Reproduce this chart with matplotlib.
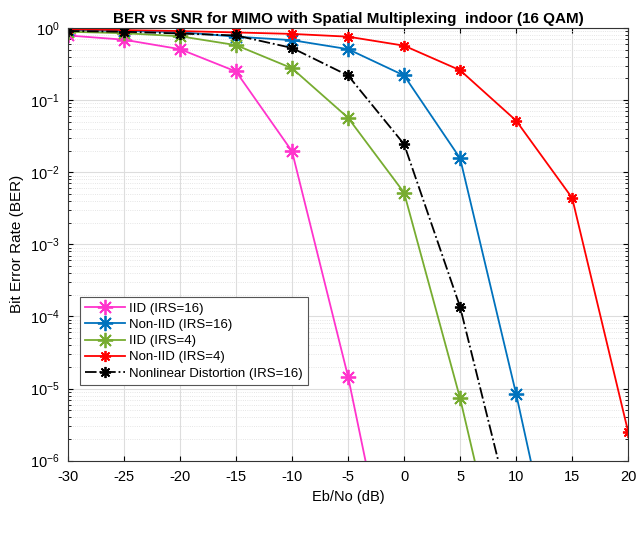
import matplotlib.pyplot as plt
from matplotlib.ticker import NullFormatter

plt.rcParams['font.family'] = ['Liberation Sans', 'DejaVu Sans']
plt.rcParams['axes.unicode_minus'] = False
plt.rcParams['mathtext.fontset'] = 'custom'
plt.rcParams['mathtext.rm'] = 'Liberation Sans'

snr = [-30, -25, -20, -15, -10, -5, 0, 5, 10, 15, 20]

berIID16 = [0.79, 0.69, 0.51, 0.25, 0.0195, 1.46e-5, 2.6e-9]
berNonIID16 = [0.93, 0.91, 0.88, 0.76, 0.68, 0.51, 0.22, 0.0156, 8.4e-6, 2.4e-9]
berIID4 = [0.89, 0.85, 0.77, 0.58, 0.277, 0.057, 5.2e-3, 7.3e-6, 3.5e-9]
berNonIID4 = [0.96, 0.94, 0.91, 0.87, 0.83, 0.76, 0.57, 0.26, 0.052, 0.0044, 2.5e-6]
berNonlin16 = [0.91, 0.89, 0.84, 0.79, 0.53, 0.22, 0.0245, 1.35e-4, 1.0e-7]

ast = (8, 2, 0)  # MATLAB style asterisk

fig = plt.figure(figsize=(6.41, 5.4), dpi=100)
ax = fig.add_axes([0.106, 0.147, 0.874, 0.801])

ax.semilogy(snr[:len(berIID16)], berIID16, '-', marker=ast, color='#FF33CC', lw=1.3, ms=11, mew=1.3, label='IID (IRS=16)')
ax.semilogy(snr[:len(berNonIID16)], berNonIID16, '-', marker=ast, color='#0072BD', lw=1.3, ms=11, mew=1.3, label='Non-IID (IRS=16)')
ax.semilogy(snr[:len(berIID4)], berIID4, '-', marker=ast, color='#77AC30', lw=1.3, ms=11, mew=1.3, label='IID (IRS=4)')
ax.semilogy(snr[:len(berNonIID4)], berNonIID4, '-', marker=ast, color='#FF0000', lw=1.3, ms=8, mew=1.3, label='Non-IID (IRS=4)')
ax.semilogy(snr[:len(berNonlin16)], berNonlin16, '-.', marker=ast, color='black', lw=1.3, ms=8, mew=1.3, label='Nonlinear Distortion (IRS=16)')

ax.set_xlim(-30, 20)
ax.set_ylim(1e-6, 1)
ax.set_xticks(snr)
ax.yaxis.set_minor_formatter(NullFormatter())
ax.grid(True, which='major', color='#DDDDDD', lw=0.8)
ax.grid(True, which='minor', color='#DDDDDD', lw=0.6, ls=':')
ax.tick_params(which='both', direction='in', top=True, right=True, labelsize=10.5)
ax.tick_params(axis='y', pad=6)
ax.tick_params(axis='x', pad=7)
for s in ax.spines.values():
    s.set_color('#333333')

ax.set_xlabel('Eb/No (dB)', fontsize=10.5)
ax.set_ylabel('Bit Error Rate (BER)', fontsize=11)
ax.set_title('BER vs SNR for MIMO with Spatial Multiplexing  indoor (16 QAM)', fontsize=11, fontweight='bold', pad=4)

leg = ax.legend(loc='lower left', bbox_to_anchor=(0.01, 0.16), fontsize=9.5, fancybox=False,
                edgecolor='#555555', framealpha=1, handlelength=3.0, borderpad=0.4, labelspacing=0.3,
                handletextpad=0.3)
leg.get_frame().set_linewidth(0.8)

fig.savefig('out.png', dpi=100)
